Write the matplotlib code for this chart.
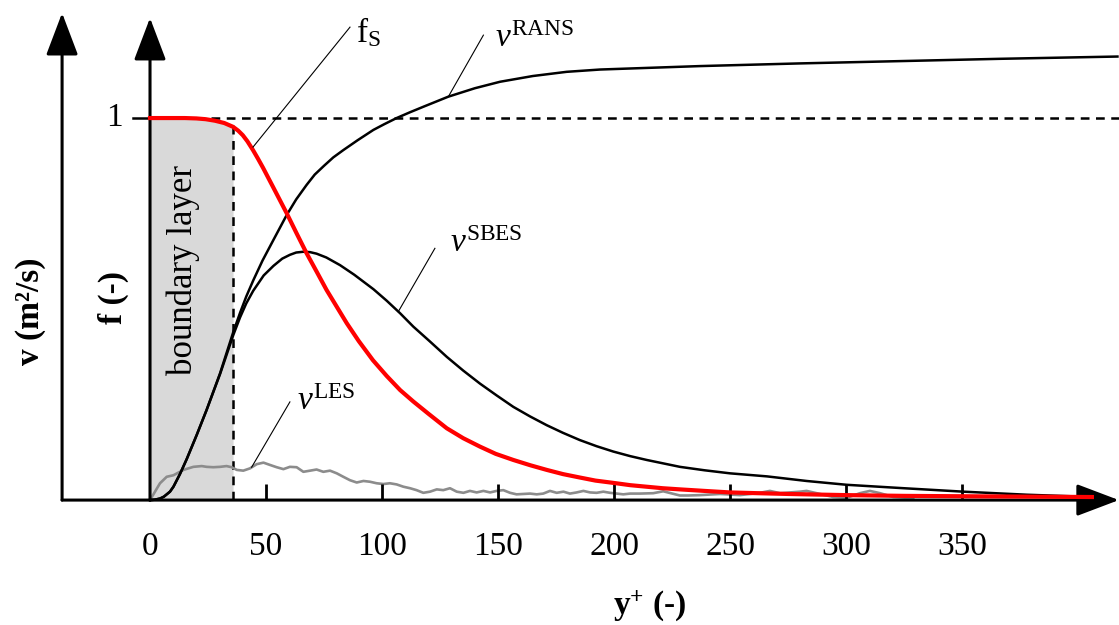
import matplotlib
matplotlib.use("Agg")
import matplotlib.pyplot as plt
import numpy as np

plt.rcParams["font.family"] = "Liberation Serif"
plt.rcParams["mathtext.fontset"] = "custom"
plt.rcParams["mathtext.rm"] = "Liberation Serif"
plt.rcParams["mathtext.it"] = "Liberation Serif:italic"
plt.rcParams["mathtext.bf"] = "Liberation Serif:bold"

# shielding function f_S
fs_x = [0, 10, 15, 20, 24, 28, 32, 35.8, 38, 40, 42, 44.4, 46.5, 48.7, 53, 58.9, 63.2, 67.5,
        72, 76.1, 80.5, 84.8, 90, 96.1, 102, 107.8, 113.5, 120, 127.9, 135, 142.2, 149,
        156.6, 164, 171, 178, 185.3, 192, 199.7, 207, 214, 221, 228.4, 239, 250, 262, 275,
        287, 300, 325, 350, 378, 406]
fs_y = [1, 1, 1, 0.999, 0.997, 0.993, 0.987, 0.977, 0.967, 0.955, 0.939, 0.916, 0.894, 0.87,
        0.82, 0.751, 0.698, 0.646, 0.596, 0.55, 0.506, 0.463, 0.416, 0.366, 0.325, 0.288,
        0.258, 0.226, 0.188, 0.162, 0.140, 0.121, 0.105, 0.091, 0.079, 0.068, 0.059, 0.051,
        0.045, 0.039, 0.035, 0.031, 0.028, 0.024, 0.020, 0.018, 0.016, 0.0145, 0.013, 0.011,
        0.010, 0.009, 0.008]

# RANS viscosity
rans_x = [0, 2, 4.3, 6, 8.6, 10.1, 12.9, 15.8, 20.1, 24.4, 30.2, 35.9, 38.8, 41.5, 44.5,
          48.5, 53.2, 58.9, 63, 67.5, 71, 75, 79, 83.3, 89.5, 96.3, 101, 106.3, 112, 118,
          128.6, 140, 150.9, 165, 179.6, 194, 208.3, 237, 280, 323, 366, 417]
rans_y = [0, 0.001, 0.004, 0.009, 0.022, 0.035, 0.068, 0.107, 0.170, 0.236, 0.332, 0.440,
          0.490, 0.533, 0.575, 0.627, 0.681, 0.746, 0.787, 0.825, 0.852, 0.875, 0.897, 0.916,
          0.942, 0.969, 0.984, 1.0, 1.015, 1.030, 1.056, 1.078, 1.095, 1.110, 1.121, 1.127,
          1.130, 1.136, 1.143, 1.149, 1.155, 1.161]

# SBES viscosity
sbes_x = [0, 2, 4.3, 6, 8.6, 10.1, 12.9, 15.8, 20.1, 24.4, 30.2, 35.9, 38.8, 41.5, 44.5, 49,
          53.2, 57, 60.3, 63, 66.1, 69, 71.8, 76, 81.9, 88, 96.3, 102, 107.8, 113.5, 120.5,
          127.9, 135, 142.2, 149.4, 156.6, 163.8, 171, 178, 185.3, 192.5, 199.7, 207, 214.1,
          228.4, 239, 250, 266, 283, 300.3, 325, 350.6, 378, 406.6]
sbes_y = [0, 0.001, 0.004, 0.009, 0.022, 0.035, 0.068, 0.107, 0.170, 0.236, 0.330, 0.432,
          0.478, 0.515, 0.548, 0.588, 0.613, 0.632, 0.642, 0.648, 0.650, 0.649, 0.645, 0.635,
          0.615, 0.590, 0.552, 0.522, 0.489, 0.454, 0.416, 0.375, 0.339, 0.305, 0.274, 0.244,
          0.219, 0.196, 0.176, 0.157, 0.141, 0.127, 0.115, 0.105, 0.087, 0.078, 0.070, 0.062,
          0.050, 0.040, 0.031, 0.022, 0.014, 0.008]

# LES viscosity (noisy)
les_x = [0, 4.3, 7.2, 10.1, 14.4, 18.7, 22.3, 24.4, 27.3, 30.2,
         33.0, 35.2, 37.4, 40.2, 43.1, 46.0, 48.9, 51.7, 54.6, 57.5,
         60.3, 63.2, 66.1, 69.0, 71.8, 74.7, 77.6, 80.5, 83.3, 86.2,
         89.1, 92.0, 94.8, 97.7, 100.6, 103.4, 106.3, 109.2, 112.1, 114.9,
         117.8, 120.7, 123.6, 126.4, 129.3, 132.2, 135.1, 137.9, 140.8, 143.7,
         146.6, 149.4, 152.3, 155.2, 158.0, 160.9, 163.8, 166.7, 169.5, 172.4,
         175.3, 178.2, 181.0, 183.9, 186.8, 189.7, 192.5, 195.4, 198.3, 201.2,
         204.0, 206.9, 211.2, 216.9, 221.2, 228.4, 232.0, 237.1, 245.7, 254.3,
         262.9, 267.2, 271.6, 280.2, 283.0, 288.8, 294.5, 300.3, 306.0, 310.3,
         314.7, 320.4, 329.0]
les_y = [0, 0.044, 0.061, 0.065, 0.079, 0.087, 0.089, 0.087, 0.086, 0.087,
         0.089, 0.086, 0.079, 0.077, 0.083, 0.094, 0.098, 0.092, 0.086, 0.081,
         0.087, 0.086, 0.074, 0.077, 0.080, 0.074, 0.077, 0.070, 0.061, 0.052,
         0.046, 0.050, 0.048, 0.044, 0.042, 0.044, 0.041, 0.035, 0.031, 0.026,
         0.019, 0.022, 0.028, 0.026, 0.031, 0.022, 0.019, 0.024, 0.020, 0.024,
         0.020, 0.024, 0.026, 0.019, 0.015, 0.016, 0.017, 0.015, 0.017, 0.024,
         0.019, 0.022, 0.017, 0.020, 0.024, 0.020, 0.019, 0.022, 0.019, 0.017,
         0.015, 0.017, 0.017, 0.018, 0.023, 0.012, 0.012, 0.013, 0.016, 0.013,
         0.019, 0.024, 0.018, 0.022, 0.024, 0.016, 0.008, 0.006, 0.018, 0.024,
         0.018, 0.008, 0.005]

tick_vals = [0, 50, 100, 150, 200, 250, 300, 350]
bl_edge = 35.8  # boundary layer edge

fig = plt.figure(figsize=(11.19, 6.25), dpi=100)
ax = fig.add_axes([0, 0, 1, 1])
ax.set_xlim(-64.66, 417.67)
ax.set_ylim(-0.327, 1.309)
ax.axis("off")

fs_x_arr = np.array(fs_x)
fs_y_arr = np.array(fs_y)
ax.fill_between(fs_x_arr, 0, fs_y_arr, where=fs_x_arr <= bl_edge, color="#d9d9d9", lw=0, zorder=1)

# axes with arrows
arrow = dict(arrowstyle="-|>,head_length=0.66,head_width=0.25", lw=2.2, color="k",
             mutation_scale=40, shrinkA=0, shrinkB=0)
ax.annotate("", xy=(-37.9, 1.275), xytext=(-37.9, 0), arrowprops=arrow, zorder=5)
ax.annotate("", xy=(0, 1.262), xytext=(0, 0), arrowprops=arrow, zorder=5)
ax.annotate("", xy=(417.6, 0), xytext=(-37.9, 0), arrowprops=arrow, zorder=5,
            annotation_clip=False)

# ticks
for t in tick_vals[1:]:
    ax.plot([t, t], [0, 0.042], color="k", lw=2, zorder=5, solid_capstyle="butt")
for t in tick_vals:
    ax.text(t, -0.144, str(t), ha="center", va="baseline", fontsize=24)

# "1" level
ax.plot([-7.3, 0], [1, 1], color="k", lw=1.8, zorder=3)
ax.plot([0, 417.6], [1, 1], color="k", lw=1.8, ls=(0, (3.5, 2.6)), zorder=3)
ax.plot([bl_edge, bl_edge], [0, 1], color="k", lw=1.8, ls=(0, (3.5, 2.6)), zorder=3)
ax.text(-15.5, 1, "1", ha="center", va="center", fontsize=24)

# curves
ax.plot(les_x, les_y, color="#8c8c8c", lw=1.9, zorder=4)
ax.plot(rans_x, rans_y, color="k", lw=1.8, zorder=6)
ax.plot(sbes_x, sbes_y, color="k", lw=1.8, zorder=6)
ax.plot(fs_x, fs_y, color="#ff0000", lw=3.0, zorder=7)

# labels with leader lines
ax.plot([44.4, 86.2], [0.924, 1.238], color="k", lw=0.8, zorder=8)
ax.text(88.8, 1.199, r"f$_{\mathrm{S}}$", fontsize=24, ha="left", va="baseline")
ax.plot([128.6, 143.7], [1.056, 1.217], color="k", lw=0.8, zorder=8)
ax.text(148.7, 1.186, r"$\nu^{\mathrm{RANS}}$", fontsize=24, ha="left", va="baseline")
ax.plot([107.0, 122.8], [0.493, 0.659], color="k", lw=0.8, zorder=8)
ax.text(129.3, 0.649, r"$\nu^{\mathrm{SBES}}$", fontsize=24, ha="left", va="baseline")
ax.plot([43.8, 60.3], [0.086, 0.257], color="k", lw=0.8, zorder=8)
ax.text(63.4, 0.236, r"$\nu^{\mathrm{LES}}$", fontsize=24, ha="left", va="baseline")

ax.text(14.2, 0.601, "boundary layer", rotation=90, fontsize=25, ha="center", va="center")

# axis titles
ax.text(-16, 0.53, "f (-)", rotation=90, fontsize=24, fontweight="bold", ha="center", va="center")
ax.text(-51.7, 0.495, "v (m²/s)", rotation=90, fontsize=24, fontweight="bold",
        ha="center", va="center")
ax.text(215.5, -0.275, r"$\mathbf{y^{+}}$ (-)", fontsize=24, fontweight="bold",
        ha="center", va="center")

fig.savefig("out.png", dpi=100)
